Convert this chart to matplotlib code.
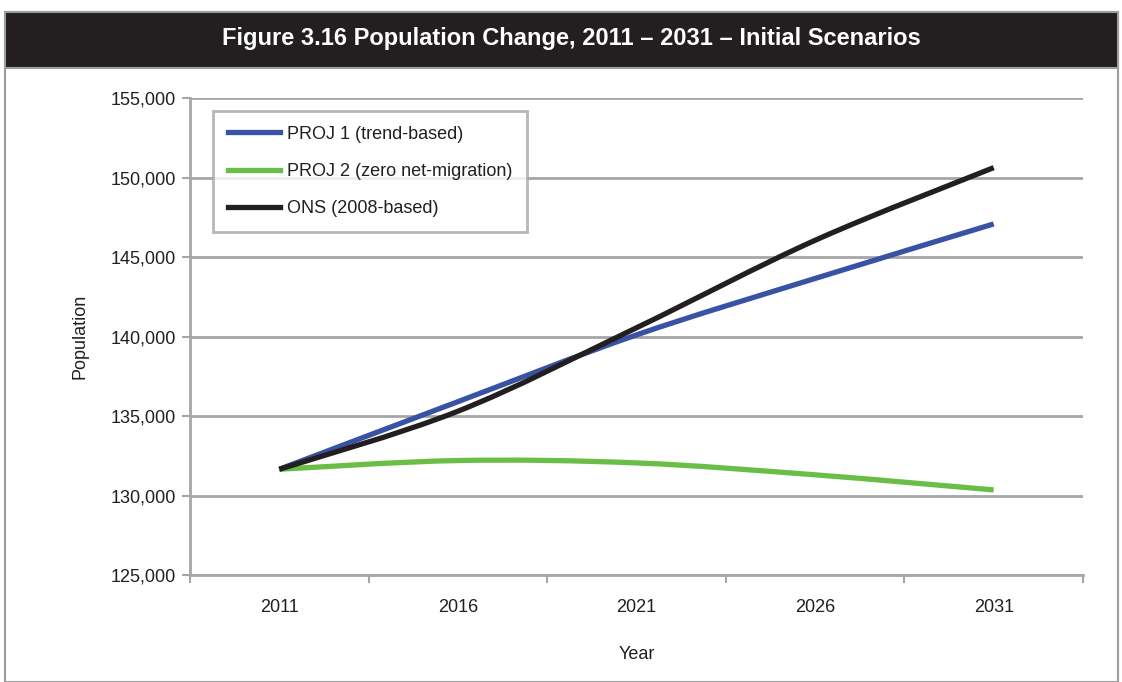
import matplotlib
matplotlib.use("Agg")
import matplotlib.pyplot as plt
from matplotlib.path import Path
from matplotlib.patches import PathPatch, Rectangle
from matplotlib.lines import Line2D
from matplotlib.ticker import FuncFormatter

plt.rcParams['font.family'] = ['Liberation Sans Narrow', 'Liberation Sans', 'DejaVu Sans']

years = ['2011', '2016', '2021', '2026', '2031']
proj1 = [131650, 135900, 140100, 143650, 147080]
proj2 = [131650, 132200, 132050, 131300, 130350]
ons = [131650, 135300, 140550, 146050, 150620]
series_names = ['PROJ 1 (trend-based)', 'PROJ 2 (zero net-migration)', 'ONS (2008-based)']
series_colors = ['#3953a4', '#6abd45', '#231f20']


def smooth_path(xs, ys):
    # bezier segments through every point, like an office "smoothed line"
    pts = list(zip(xs, ys))
    n = len(pts)
    verts = [pts[0]]
    codes = [Path.MOVETO]
    for i in range(n - 1):
        p0 = pts[i - 1] if i > 0 else pts[i]
        p1 = pts[i]
        p2 = pts[i + 1]
        p3 = pts[i + 2] if i + 2 < n else pts[i + 1]
        c1 = (p1[0] + (p2[0] - p0[0]) / 6, p1[1] + (p2[1] - p0[1]) / 6)
        c2 = (p2[0] - (p3[0] - p1[0]) / 6, p2[1] - (p3[1] - p1[1]) / 6)
        verts += [c1, c2, p2]
        codes += [Path.CURVE4] * 3
    return Path(verts, codes)


fig = plt.figure(figsize=(11.22, 6.82), dpi=100)

# frame and dark title band
fig.patches.append(Rectangle((5 / 1122, 0), 1113 / 1122, 670 / 682, transform=fig.transFigure,
                             facecolor='none', edgecolor='#9d9d9d', linewidth=1.5))
fig.patches.append(Rectangle((5 / 1122, 614 / 682), 1113 / 1122, 56 / 682, transform=fig.transFigure,
                             facecolor='#231f20', edgecolor='#9d9d9d', linewidth=1.5))
fig.text(0.509, 0.944, 'Figure 3.16 Population Change, 2011 \u2013 2031 \u2013 Initial Scenarios',
         color='white', fontsize=17, fontweight='bold', family=['Liberation Sans', 'DejaVu Sans'],
         ha='center', va='center')

ax = fig.add_axes([190 / 1122, 107 / 682, 893 / 1122, 477 / 682])
x = list(range(len(years)))
for vals, color in zip([proj1, proj2, ons], series_colors):
    ax.add_patch(PathPatch(smooth_path(x, vals), facecolor='none', edgecolor=color,
                           linewidth=3.8, capstyle='butt', zorder=3))

ax.set_xlim(-0.5, len(years) - 0.5)
ax.set_ylim(125000, 155000)
ax.set_yticks(range(125000, 155001, 5000))
ax.yaxis.set_major_formatter(FuncFormatter(lambda v, p: f'{int(v):,}'))
ax.set_xticks(x)
ax.set_xticklabels(years)
ax.set_xticks([i - 0.5 for i in range(len(years) + 1)], minor=True)
ax.tick_params(axis='x', which='major', length=0, pad=17, labelsize=13, colors='#231f20')
ax.tick_params(axis='x', which='minor', length=6, width=1.5, color='#a6a6a6')
ax.tick_params(axis='y', length=6, width=1.5, color='#a6a6a6', labelsize=13, labelcolor='#231f20', pad=4)
ax.grid(axis='y', color='#a6a6a6', linewidth=2)
ax.set_axisbelow(True)
for side in ['top', 'right']:
    ax.spines[side].set_visible(False)
for side in ['left', 'bottom']:
    ax.spines[side].set_color('#a6a6a6')
    ax.spines[side].set_linewidth(2)
ax.set_ylabel('Population', fontsize=13, color='#231f20', labelpad=16)
ax.set_xlabel('Year', fontsize=13, color='#231f20', labelpad=22)

handles = [Line2D([], [], color=c, linewidth=3.8) for c in series_colors]
leg = ax.legend(handles, series_names, loc='upper left', bbox_to_anchor=(0.026, 0.972),
                borderaxespad=0, fontsize=13, frameon=True, fancybox=False, handlelength=2.9,
                labelspacing=1.12, borderpad=0.8, handletextpad=0.4)
leg.get_frame().set_edgecolor('#a6a6a6')
leg.get_frame().set_linewidth(2)
for t in leg.get_texts():
    t.set_color('#231f20')

fig.savefig('out.png', dpi=100)
